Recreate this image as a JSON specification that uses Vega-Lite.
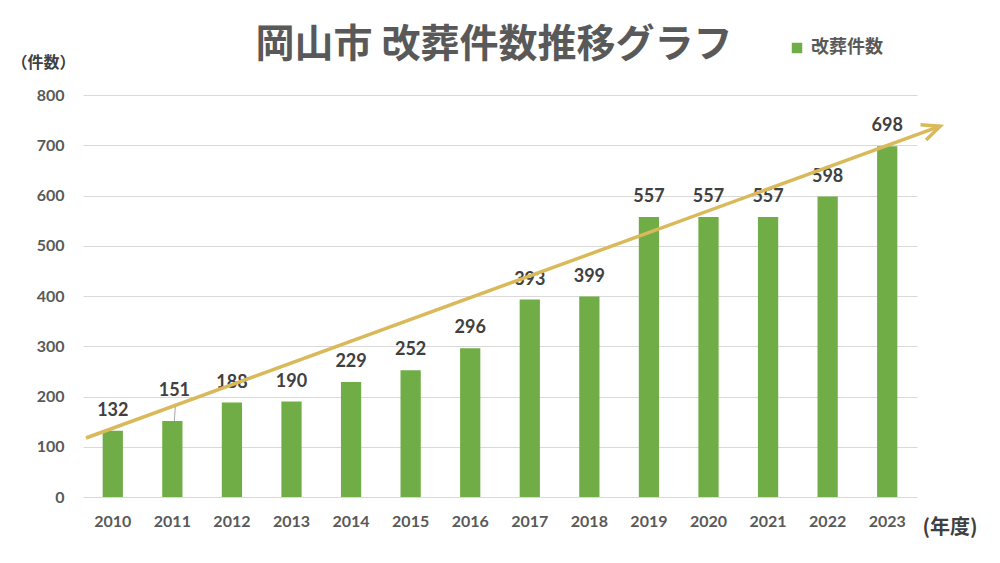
{
  "$schema": "https://vega.github.io/schema/vega-lite/v6.json",
  "width": 834,
  "height": 402,
  "autosize": {"type": "none"},
  "padding": {"left": 83, "top": 95, "right": 83, "bottom": 66},
  "background": "white",
  "title": {
    "text": "岡山市 改葬件数推移グラフ",
    "anchor": "middle",
    "frame": "group",
    "dx": -6,
    "offset": -26,
    "font": "Noto Sans CJK JP",
    "fontSize": 39,
    "fontWeight": "bold",
    "color": "#595959"
  },
  "datasets": {
    "counts": [
      {"year": "2010", "count": 132},
      {"year": "2011", "count": 151},
      {"year": "2012", "count": 188},
      {"year": "2013", "count": 190},
      {"year": "2014", "count": 229},
      {"year": "2015", "count": 252},
      {"year": "2016", "count": 296},
      {"year": "2017", "count": 393},
      {"year": "2018", "count": 399},
      {"year": "2019", "count": 557},
      {"year": "2020", "count": 557},
      {"year": "2021", "count": 557},
      {"year": "2022", "count": 598},
      {"year": "2023", "count": 698}
    ],
    "arrow": [
      {"ax": 2009.55, "ay": 117.4},
      {"ax": 2023.89, "ay": 738}
    ],
    "tip": [
      {"ax": 2023.89, "ay": 738}
    ]
  },
  "layer": [
    {
      "data": {"name": "counts"},
      "layer": [
        {
          "mark": {"type": "bar", "color": "#70ad47"},
          "encoding": {
            "x": {
              "field": "year",
              "type": "nominal",
              "sort": null,
              "scale": {"paddingInner": 0.66, "paddingOuter": 0.33},
              "axis": {
                "title": "(年度)",
                "titleFont": "Noto Sans CJK JP",
                "titleFontSize": 20,
                "titleFontWeight": "bold",
                "titleColor": "#404040",
                "titleAlign": "left",
                "titleBaseline": "middle",
                "titleAnchor": "start",
                "titleX": 839,
                "titleY": 30,
                "labelAngle": 0,
                "labelFont": "Lato",
                "labelFontSize": 16,
                "labelFontWeight": "bold",
                "labelColor": "#595959",
                "labelPadding": 16,
                "domain": false,
                "ticks": false,
                "grid": false
              }
            },
            "y": {
              "field": "count",
              "type": "quantitative",
              "scale": {"domain": [0, 800]},
              "axis": {
                "title": "（件数）",
                "titleFont": "Noto Sans CJK JP",
                "titleFontSize": 16,
                "titleFontWeight": "bold",
                "titleColor": "#404040",
                "titleAngle": 0,
                "titleAlign": "left",
                "titleBaseline": "middle",
                "titleAnchor": "start",
                "titleX": -72,
                "titleY": -33,
                "values": [0, 100, 200, 300, 400, 500, 600, 700, 800],
                "labelFont": "Lato",
                "labelFontSize": 16,
                "labelFontWeight": "bold",
                "labelColor": "#595959",
                "labelPadding": 19,
                "domain": false,
                "ticks": false,
                "grid": true,
                "gridColor": "#d9d9d9",
                "gridWidth": 1
              }
            },
            "color": {
              "datum": "改葬件数",
              "type": "nominal",
              "scale": {"range": ["#70ad47"]},
              "legend": {
                "title": null,
                "orient": "none",
                "legendX": 705,
                "legendY": -56,
                "padding": 0,
                "symbolType": "square",
                "symbolSize": 110,
                "symbolStrokeWidth": 0,
                "labelFont": "Noto Sans CJK JP",
                "labelFontSize": 18,
                "labelFontWeight": "bold",
                "labelColor": "#595959",
                "labelOffset": 5
              }
            }
          }
        },
        {
          "transform": [{"filter": "datum.year != '2011'"}],
          "mark": {"type": "text", "dy": -20, "baseline": "middle", "font": "Lato", "fontSize": 18, "fontWeight": "bold", "color": "#404040"},
          "encoding": {
            "x": {"field": "year", "type": "nominal", "sort": null},
            "y": {"field": "count", "type": "quantitative"},
            "text": {"field": "count", "type": "quantitative"}
          }
        },
        {
          "transform": [{"filter": "datum.year == '2011'"}],
          "mark": {"type": "text", "dy": -30, "dx": 2, "baseline": "middle", "font": "Lato", "fontSize": 18, "fontWeight": "bold", "color": "#404040"},
          "encoding": {
            "x": {"field": "year", "type": "nominal", "sort": null},
            "y": {"field": "count", "type": "quantitative"},
            "text": {"field": "count", "type": "quantitative"}
          }
        },
        {
          "transform": [{"filter": "datum.year == '2011'"}],
          "mark": {"type": "rule", "color": "#a6a6a6", "strokeWidth": 1, "xOffset": 2, "x2Offset": 3, "y2Offset": -15},
          "encoding": {
            "x": {"field": "year", "type": "nominal", "sort": null},
            "x2": {"field": "year"},
            "y": {"field": "count", "type": "quantitative"},
            "y2": {"field": "count"}
          }
        }
      ]
    },
    {
      "layer": [
        {
          "data": {"name": "arrow"},
          "mark": {"type": "line", "color": "#d9b95a", "strokeWidth": 3.5, "clip": false},
          "encoding": {
            "x": {"field": "ax", "type": "quantitative", "scale": {"domain": [2009.5, 2023.5], "nice": false, "zero": false}, "axis": null},
            "y": {"field": "ay", "type": "quantitative"}
          }
        },
        {
          "data": {"name": "tip"},
          "mark": {"type": "point", "shape": "M-1,-0.45L0,0L-1,0.45", "filled": false, "stroke": "#d9b95a", "strokeWidth": 3.5, "size": 1300, "angle": -20, "strokeJoin": "miter", "opacity": 1, "clip": false},
          "encoding": {
            "x": {"field": "ax", "type": "quantitative", "scale": {"domain": [2009.5, 2023.5], "nice": false, "zero": false}, "axis": null},
            "y": {"field": "ay", "type": "quantitative"}
          }
        }
      ]
    }
  ],
  "resolve": {"scale": {"x": "independent", "color": "independent"}},
  "config": {"view": {"stroke": null}}
}
